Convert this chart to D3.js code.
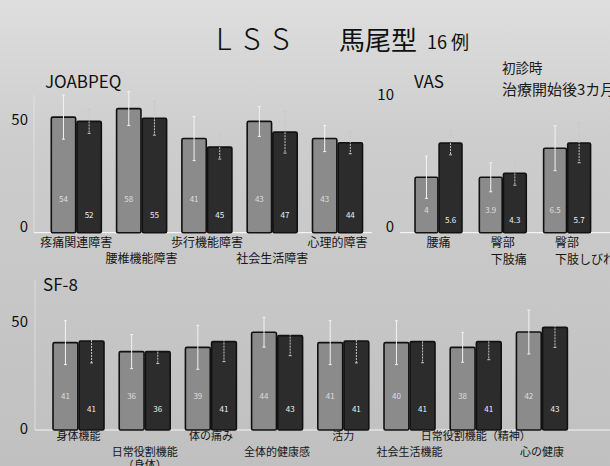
<!DOCTYPE html>
<html><head><meta charset="utf-8">
<script src="https://cdn.jsdelivr.net/npm/d3@7"></script>
<style>
html,body{margin:0;padding:0;background:#c8c8c8;}
svg{display:block;}
text{font-family:"Noto Sans CJK JP","Noto Sans",sans-serif;}
</style></head>
<body>
<svg id="chart" width="610" height="466"></svg>
<script>
// ---- data ----
const joaCats = ["疼痛関連障害","腰椎機能障害","歩行機能障害","社会生活障害","心理的障害"];
const joaPre = [54, 58, 44, 52, 44];
const joaPost = [52, 53.5, 40, 47, 42];
const joaPreSD = [10.3, 7.9, 10.3, 7, 6.1];
const joaPostSD = [5.6, 7.9, 5.6, 9.8, 5.1];
const joaPreLbl = ["54","58","41","43","43"];
const joaPostLbl = ["52","55","45","47","44"];
const joaTicks = [0, 50];

const vasCats = ["腰痛","臀部\n下肢痛","臀部\n下肢しびれ"];
const vasPre = [4.2, 4.2, 6.4];
const vasPost = [6.8, 4.5, 6.8];
const vasPreSD = [1.6, 1.1, 1.7];
const vasPostSD = [0.9, 0.9, 1.5];
const vasPreLbl = ["4","3.9","6.5"];
const vasPostLbl = ["5.6","4.3","5.7"];
const vasTicks = [0, 10];

const sfCats = ["身体機能","日常役割機能\n（身体）","体の痛み","全体的健康感","活力","社会生活機能","日常役割機能（精神）","心の健康"];
const sfPre = [41, 36.8, 38.8, 45.9, 41, 41, 38.8, 46];
const sfPost = [41.8, 36.8, 41.5, 44.3, 41.8, 41.5, 41.5, 48.2];
const sfPreSD = [10.3, 8, 10.3, 7, 10.3, 10.3, 7, 10.3];
const sfPostSD = [10.3, 5.6, 9.4, 9.4, 10.3, 9.9, 8.5, 9.4];
const sfPreLbl = ["41","36","39","44","41","40","38","42"];
const sfPostLbl = ["41","36","41","43","41","41","41","43"];
const sfTicks = [0, 50];

const seriesNames = ["初診時","治療開始後3カ月"];

// ---- drawing ----
const svg = d3.select("#chart");
const defs = svg.append("defs");
const grad = defs.append("linearGradient").attr("id","bg").attr("x1",0).attr("y1",0).attr("x2",0).attr("y2",1);
grad.append("stop").attr("offset","0%").attr("stop-color","#dedede");
grad.append("stop").attr("offset","30%").attr("stop-color","#cdcdcd");
grad.append("stop").attr("offset","100%").attr("stop-color","#c0c0c0");
svg.append("rect").attr("width",610).attr("height",466).attr("fill","url(#bg)");

// title
const title = svg.append("text").attr("y",50).attr("fill","#111");
title.append("tspan").attr("x",216).attr("font-size",30).attr("font-weight",300).attr("letter-spacing",12).text("LSS");
title.append("tspan").attr("x",339).attr("font-size",26).attr("font-weight",400).text("馬尾型");
title.append("tspan").attr("x",427).attr("font-size",18).attr("dy",-1).text("16 例");

// legend text
const leg = svg.append("g");
leg.selectAll("text").data(seriesNames).join("text")
  .attr("x",502).attr("y",(d,i)=>73+i*22).attr("font-size",(d,i)=>i?15:13.5).attr("fill","#1a1a1a").text(d=>d);

function panel(opt){
  const g = svg.append("g");
  const y = d3.scaleLinear().domain(opt.ydom).range([opt.base, opt.top]);
  const x0 = d3.scaleBand().domain(opt.cats).range(opt.xr).paddingInner(opt.pi).paddingOuter(opt.pi/2);
  const x1 = d3.scaleBand().domain([0,1]).range([0, x0.bandwidth()]).paddingInner(0.05);
  g.append("line").attr("x1",opt.axisX).attr("x2",opt.axisX).attr("y1",opt.axisTop).attr("y2",opt.base)
    .attr("stroke","#e8e8e8").attr("stroke-width",1).attr("opacity",0.7);
  g.append("line").attr("x1",opt.axisX).attr("x2",opt.baseEnd).attr("y1",opt.base).attr("y2",opt.base)
    .attr("stroke","#f4f4f4").attr("stroke-width",1.2);
  const ax = g.append("g").attr("transform",`translate(${opt.labelX},0)`)
    .call(d3.axisLeft(y).tickValues(opt.ticks).tickSize(0).tickPadding(0).tickFormat(d3.format("d")));
  ax.select(".domain").remove();
  ax.selectAll("text").attr("font-size",15).attr("fill","#111").attr("dy",opt.tickDy)
    .attr("font-family","'Noto Sans','DejaVu Sans',sans-serif");
  g.append("text").attr("x",opt.titleX).attr("y",opt.titleY).attr("font-size",17).attr("fill","#111")
    .attr("font-family","'Noto Sans',sans-serif").text(opt.title);
  const groups = [
    {vals:opt.pre, sd:opt.preSD, lbl:opt.preLbl, fill:"#8b8b8b", lc:"#dedede", ly:opt.preLy, ec:"#f2f2f2", dash:null},
    {vals:opt.post, sd:opt.postSD, lbl:opt.postLbl, fill:"#2c2c2c", lc:"#f0f0f0", ly:opt.postLy, ec:"#c8c8c8", dash:"2,1"}
  ];
  groups.forEach((s,si)=>{
    const gg = g.append("g");
    const cx = (i)=>x0(opt.cats[i])+x1(si)+x1.bandwidth()/2;
    gg.selectAll("rect").data(s.vals).join("rect")
      .attr("x",(d,i)=>x0(opt.cats[i])+x1(si)).attr("width",x1.bandwidth())
      .attr("y",d=>y(d)).attr("height",d=>opt.base-y(d))
      .attr("fill",s.fill).attr("stroke","#111").attr("stroke-width",1.6).attr("rx",1.5);
    gg.selectAll("line.err").data(s.vals).join("line").attr("class","err")
      .attr("x1",(d,i)=>cx(i)).attr("x2",(d,i)=>cx(i))
      .attr("y1",(d,i)=>y(d+s.sd[i])).attr("y2",(d,i)=>y(d-s.sd[i]))
      .attr("stroke",s.ec).attr("stroke-width",1).attr("stroke-dasharray",s.dash);
    [1,-1].forEach(sg=>{
      gg.selectAll("line.cap"+(sg>0?"u":"d")).data(s.vals).join("line").attr("class","cap"+(sg>0?"u":"d"))
        .attr("x1",(d,i)=>cx(i)-1.5).attr("x2",(d,i)=>cx(i)+1.5)
        .attr("y1",(d,i)=>y(d+sg*s.sd[i])).attr("y2",(d,i)=>y(d+sg*s.sd[i]))
        .attr("stroke",s.ec).attr("stroke-width",1);
    });
    gg.selectAll("text").data(s.lbl).join("text")
      .attr("x",(d,i)=>cx(i))
      .attr("y",opt.base-s.ly).attr("dy","0.35em").attr("text-anchor","middle")
      .attr("font-size",8).attr("fill",s.lc).attr("font-family","'Noto Sans',sans-serif").text(d=>d);
  });
  opt.cats.forEach((c,i)=>{
    const lines = c.split("\n");
    const cx = x0(c)+x0.bandwidth()/2;
    const multi = lines.length>1;
    const t = g.append("text").attr("font-size",opt.catFs).attr("fill","#151515")
      .attr("text-anchor", multi && opt.multiStart ? "start" : "middle");
    const lx = multi && opt.multiStart ? cx-12 : cx;
    const y0 = opt.base + (opt.stagger ? (i%2 ? opt.oddDy : opt.evenDy) : opt.evenDy);
    lines.forEach((ln,li)=>{
      t.append("tspan").attr("x",lx).attr("y",y0+li*opt.lineH).attr("dy","0.35em").text(ln);
    });
  });
}

panel({title:"JOABPEQ", titleX:45, titleY:88, cats:joaCats, pre:joaPre, post:joaPost, preSD:joaPreSD, postSD:joaPostSD,
  preLbl:joaPreLbl, postLbl:joaPostLbl, ticks:joaTicks, ydom:[0,60], base:232.7, top:232.7-128.4,
  xr:[43.65,370.15], pi:0.234, axisX:34, axisTop:95, baseEnd:372, labelX:28, tickDy:"-0.05em",
  preLy:34, postLy:18, stagger:true, evenDy:10, oddDy:26, lineH:16, catFs:12});

panel({title:"VAS", titleX:414, titleY:88, cats:vasCats, pre:vasPre, post:vasPost, preSD:vasPreSD, postSD:vasPostSD,
  preLbl:vasPreLbl, postLbl:vasPostLbl, ticks:vasTicks, ydom:[0,10], base:232.7, top:100.7,
  xr:[406.35,599.25], pi:0.27, axisX:400, axisTop:232, baseEnd:610, labelX:394, tickDy:"-0.05em",
  preLy:23, postLy:13, stagger:false, evenDy:10, oddDy:10, lineH:17, multiStart:true, catFs:12});

panel({title:"SF-8", titleX:43, titleY:291, cats:sfCats, pre:sfPre, post:sfPost, preSD:sfPreSD, postSD:sfPostSD,
  preLbl:sfPreLbl, postLbl:sfPostLbl, ticks:sfTicks, ydom:[0,60], base:430, top:430-127.8,
  xr:[45.4,575], pi:0.23, axisX:35, axisTop:280, baseEnd:610, labelX:28, tickDy:"0.2em",
  preLy:34, postLy:21, stagger:true, evenDy:6, oddDy:22, lineH:13, catFs:11});
</script>
</body></html>
